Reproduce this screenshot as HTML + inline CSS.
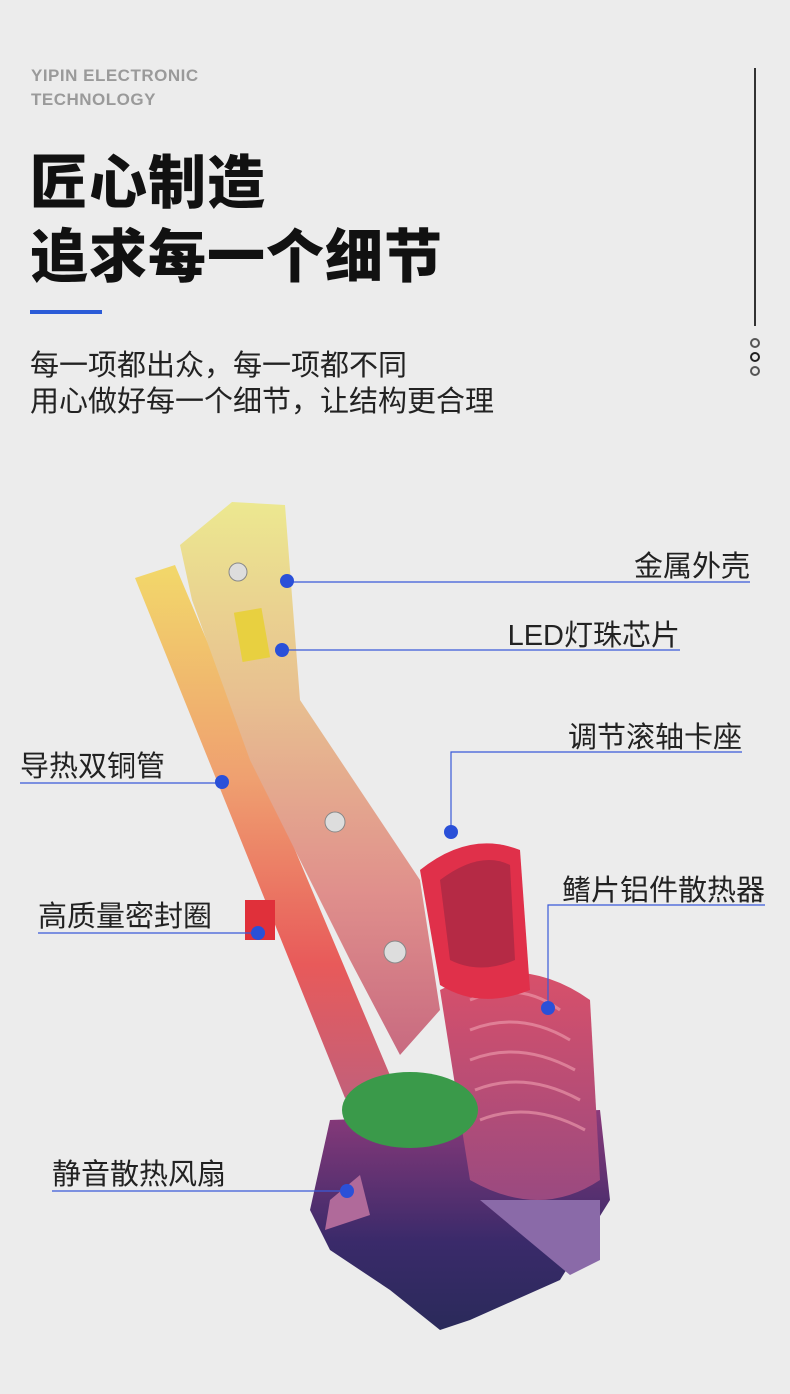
<!DOCTYPE html>
<html><head><meta charset="utf-8"><style>
html,body{margin:0;padding:0}
body{width:790px;height:1394px;background:#ececec;position:relative;overflow:hidden;font-family:"Liberation Sans","Noto Sans CJK SC",sans-serif;color:#1a1a1a}
.t{position:absolute;white-space:nowrap}
.en{left:31px;font-size:17px;font-weight:bold;color:#9a9a9a;letter-spacing:0.5px}
.h{left:30px;font-size:58px;font-weight:900;color:#111;letter-spacing:1px}
.s{left:30px;font-size:29px;color:#222}
.l{font-size:29px;color:#222}
</style></head><body>
<div class="t en" style="top:66px">YIPIN ELECTRONIC</div>
<div class="t en" style="top:90px">TECHNOLOGY</div>
<div class="t h" style="top:136px">匠心制造</div>
<div class="t h" style="top:210px">追求每一个细节</div>
<div style="position:absolute;left:30px;top:310px;width:72px;height:4px;background:#2b5bd7"></div>
<div class="t s" style="top:342px">每一项都出众，每一项都不同</div>
<div class="t s" style="top:378px">用心做好每一个细节，让结构更合理</div>
<div style="position:absolute;left:754px;top:68px;width:2px;height:258px;background:#333"></div>
<svg width="790" height="1394" style="position:absolute;left:0;top:0">
<defs>
<linearGradient id="g1" x1="0" y1="0" x2="0" y2="1"><stop offset="0" stop-color="#f2d86a"/><stop offset="0.4" stop-color="#efa070"/><stop offset="0.75" stop-color="#e85a5a"/><stop offset="1" stop-color="#c2607a"/></linearGradient>
<linearGradient id="g2" x1="0" y1="0" x2="0" y2="1"><stop offset="0" stop-color="#ece890"/><stop offset="0.35" stop-color="#e8c090"/><stop offset="0.7" stop-color="#e0908c"/><stop offset="1" stop-color="#c86a80"/></linearGradient>
<linearGradient id="g3" x1="0" y1="0" x2="0" y2="1"><stop offset="0" stop-color="#d8506a"/><stop offset="1" stop-color="#9a4a80"/></linearGradient>
<linearGradient id="g4" x1="0" y1="0" x2="0" y2="1"><stop offset="0" stop-color="#8a3a7a"/><stop offset="0.6" stop-color="#3a2a6a"/><stop offset="1" stop-color="#2a2a5a"/></linearGradient>
</defs>
<g fill="none" stroke="#555" stroke-width="2"><circle cx="755" cy="343" r="4"/><circle cx="755" cy="357" r="4" stroke="#222"/><circle cx="755" cy="371" r="4"/></g>
<path d="M330,1120 L600,1110 L610,1200 L560,1280 L470,1320 L440,1330 L390,1290 L330,1250 L310,1210 Z" fill="url(#g4)"/>
<path d="M480,1200 L600,1200 L600,1260 L570,1275 Z" fill="#8a6aa8"/>
<path d="M330,1200 L360,1175 L370,1215 L325,1230 Z" fill="#b06a9a"/>
<path d="M440,990 Q520,950 590,1000 L600,1180 Q540,1220 470,1180 Z" fill="url(#g3)"/>
<g stroke="#f0a0b0" stroke-width="3" fill="none" opacity="0.6">
<path d="M470,1000 Q520,980 560,1010"/><path d="M470,1030 Q520,1010 570,1040"/><path d="M470,1060 Q520,1040 575,1070"/><path d="M475,1090 Q525,1070 580,1100"/><path d="M480,1120 Q530,1100 585,1130"/></g>
<path d="M420,870 Q470,830 520,850 L530,990 Q480,1010 440,985 Z" fill="#e0304a"/>
<path d="M440,880 Q480,850 510,865 L515,960 Q480,975 450,960 Z" fill="#b52a45"/>
<polygon points="135,578 175,565 392,1080 345,1098" fill="url(#g1)"/>
<polygon points="180,545 232,502 285,505 300,700 420,880 440,1010 400,1055 350,960 250,760 192,600" fill="url(#g2)"/>
<rect x="245" y="900" width="30" height="40" fill="#e0303a"/>
<ellipse cx="410" cy="1110" rx="68" ry="38" fill="#3a9a4a"/>
<rect x="238" y="610" width="28" height="50" fill="#e8d040" transform="rotate(-10 252 635)"/>
<circle cx="238" cy="572" r="9" fill="#ddd" stroke="#888"/><circle cx="335" cy="822" r="10" fill="#ddd" stroke="#888"/><circle cx="395" cy="952" r="11" fill="#ddd" stroke="#888"/>
<g stroke="#3a5ad8" stroke-width="1.2" fill="none">
<path d="M287,582 H750"/><path d="M282,650 H680"/><path d="M451,832 V752 H742"/><path d="M20,783 H222"/><path d="M548,1008 V905 H765"/><path d="M38,933 H258"/><path d="M52,1191 H347"/>
</g>
<g fill="#2a50d8"><circle cx="287" cy="581" r="7"/><circle cx="282" cy="650" r="7"/><circle cx="451" cy="832" r="7"/><circle cx="222" cy="782" r="7"/><circle cx="548" cy="1008" r="7"/><circle cx="258" cy="933" r="7"/><circle cx="347" cy="1191" r="7"/></g>
</svg>
<div class="t l" style="right:40px;top:543px">金属外壳</div>
<div class="t l" style="right:110px;top:612px">LED灯珠芯片</div>
<div class="t l" style="right:48px;top:714px">调节滚轴卡座</div>
<div class="t l" style="left:20px;top:743px">导热双铜管</div>
<div class="t l" style="right:25px;top:867px">鳍片铝件散热器</div>
<div class="t l" style="left:38px;top:893px">高质量密封圈</div>
<div class="t l" style="left:52px;top:1151px">静音散热风扇</div>
</body></html>
